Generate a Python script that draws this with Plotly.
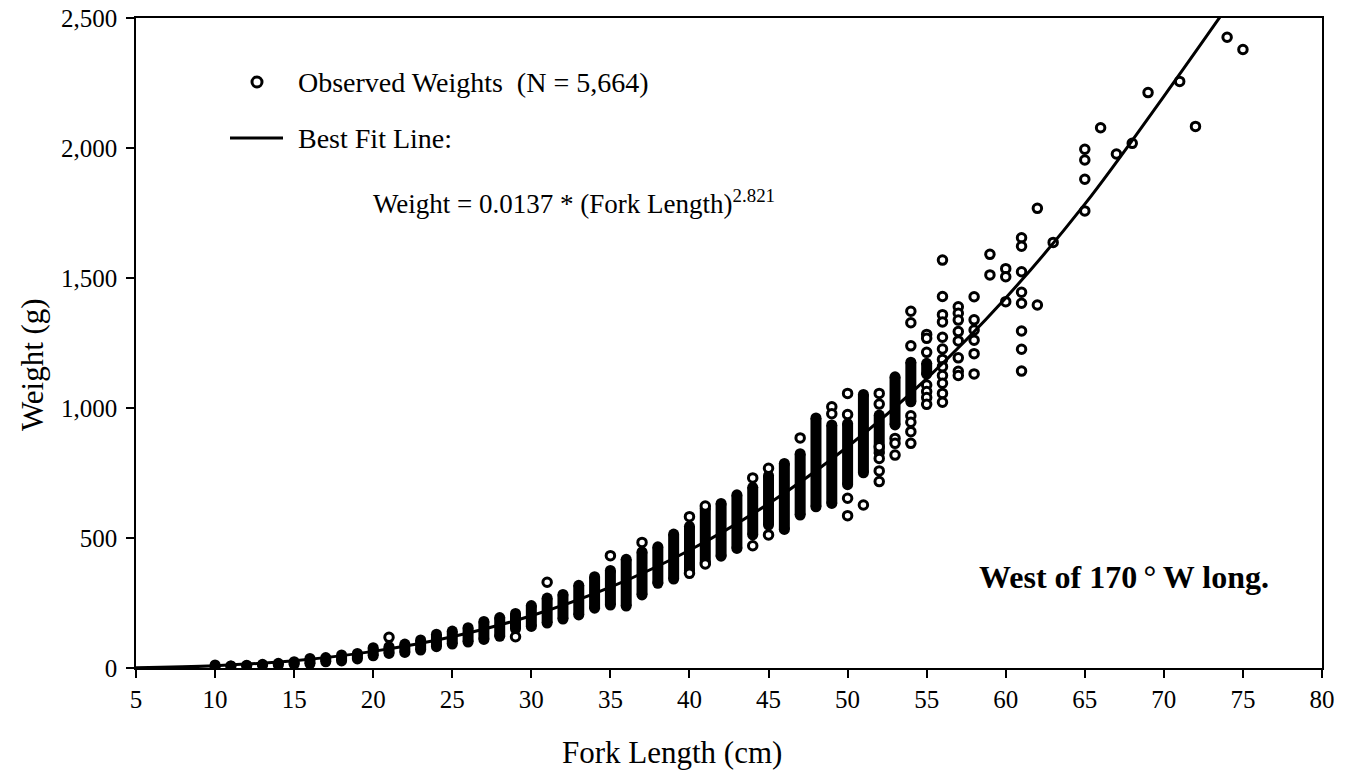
import plotly.graph_objects as go

# ---- data ----
# dense columns of overlapping observations: fork length, lowest and highest weight
col_len = list(range(10, 56))
col_min = [3, 8, 9, 11, 12, 14, 16, 24, 27, 35,
           47, 56, 60, 69, 82, 92, 100, 110, 122, 150,
           160, 173, 188, 204, 230, 242, 238, 281, 326, 342,
           375, 405, 430, 460, 512, 550, 533, 588, 620, 633,
           705, 751, 826, 935, 1024, 1130]
col_max = [12, 8, 11, 14, 18, 24, 37, 40, 50, 56,
           78, 82, 92, 108, 130, 142, 155, 179, 194, 210,
           240, 269, 283, 318, 351, 375, 418, 447, 466, 515,
           545, 614, 633, 666, 695, 740, 787, 824, 962, 935,
           940, 1052, 973, 1120, 1176, 1172]

# individually visible observations
pt_len = [21, 29, 31, 35, 37, 40, 40, 41, 41, 44, 44, 45, 45, 47, 49, 49,
          50, 50, 50, 50, 51,
          52, 52, 52, 52, 52, 52,
          53, 53, 53,
          54, 54, 54, 54, 54, 54, 54,
          55, 55, 55, 55, 55, 55, 55,
          56, 56, 56, 56, 56, 56, 56, 56, 56, 56, 56, 56,
          57, 57, 57, 57, 57, 57, 57, 57,
          58, 58, 58, 58, 58, 58,
          59, 59,
          60, 60, 60,
          61, 61, 61, 61, 61, 61, 61, 61,
          62, 62, 63,
          65, 65, 65, 65, 66, 67, 68, 69, 71, 72, 74, 75]
pt_wt = [118, 120, 330, 432, 483, 582, 364, 623, 400, 731, 470, 768, 512, 885, 1005, 978,
         1056, 975, 653, 586, 627,
         1056, 1015, 851, 806, 758, 717,
         883, 864, 819,
         1372, 1328, 1239, 970, 945, 909, 864,
         1283, 1268, 1214, 1088, 1063, 1040, 1014,
         1569, 1429, 1359, 1331, 1272, 1227, 1187, 1159, 1125, 1095, 1056, 1022,
         1389, 1364, 1338, 1294, 1258, 1193, 1141, 1125,
         1428, 1339, 1300, 1261, 1209, 1131,
         1591, 1512,
         1536, 1505, 1409,
         1655, 1622, 1524, 1445, 1403, 1296, 1226, 1142,
         1768, 1396, 1637,
         1995, 1954, 1880, 1758, 2078, 1977, 2018, 2213, 2256, 2083, 2426, 2379]

# best fit line
fit_len = [5, 10, 15, 20, 25, 30, 35, 40, 45, 50, 55, 60, 65, 70, 75]
fit_wt = [1.3, 9, 28, 64, 120, 201, 311, 453, 632, 851, 1113, 1423, 1784, 2199, 2630]

x_ticks = list(range(5, 81, 5))
y_ticks = [0, 500, 1000, 1500, 2000, 2500]

FONT = "Liberation Serif, Times New Roman, serif"

# build column segments
seg_x, seg_y = [], []
for L, lo, hi in zip(col_len, col_min, col_max):
    seg_x += [L, L, None]
    seg_y += [lo, hi, None]

fig = go.Figure()

fig.add_trace(go.Scatter(
    x=seg_x, y=seg_y, mode="lines+markers",
    line=dict(color="black", width=11),
    marker=dict(symbol="circle", size=11, color="black"),
    hoverinfo="skip", showlegend=False))

fig.add_trace(go.Scatter(
    x=pt_len, y=pt_wt, mode="markers",
    marker=dict(symbol="circle", size=8.5, color="white",
                line=dict(color="black", width=3)),
    name="Observed Weights", showlegend=False))

fig.add_trace(go.Scatter(
    x=fit_len, y=fit_wt, mode="lines",
    line=dict(color="black", width=3, shape="spline", smoothing=1),
    name="Best Fit Line", showlegend=False))

L0, W0 = 136, 1186   # plot left px, width px
T0, H0 = 18, 650     # plot top px, height px

def px(xp):
    return (xp - L0) / W0

def py(yp):
    return (T0 + H0 - yp) / H0

shapes = [
    dict(type="circle", xref="paper", yref="paper",
         xsizemode="pixel", ysizemode="pixel",
         xanchor=px(257), yanchor=py(82),
         x0=-5, x1=5, y0=-5, y1=5,
         line=dict(color="black", width=3), fillcolor="white"),
    dict(type="line", xref="paper", yref="paper",
         x0=px(230), x1=px(283), y0=py(138), y1=py(138),
         line=dict(color="black", width=3)),
]

annotations = [
    dict(x=px(296), y=py(82), xref="paper", yref="paper", xanchor="left",
         yanchor="middle", showarrow=False,
         text="Observed Weights\u00a0 (N = 5,664)",
         font=dict(family=FONT, size=28, color="black")),
    dict(x=px(296), y=py(138), xref="paper", yref="paper", xanchor="left",
         yanchor="middle", showarrow=False,
         text="Best Fit Line:",
         font=dict(family=FONT, size=28, color="black")),
    dict(x=px(371), y=py(202), xref="paper", yref="paper", xanchor="left",
         yanchor="middle", showarrow=False,
         text="Weight = 0.0137 * (Fork Length)<sup>2.821</sup>",
         font=dict(family=FONT, size=27, color="black")),
    dict(x=px(977), y=py(577), xref="paper", yref="paper", xanchor="left",
         yanchor="middle", showarrow=False,
         text="<b>West of 170\u2009\u00b0\u2009W long.</b>",
         font=dict(family=FONT, size=32, color="black")),
    # axis titles
    dict(x=px(672), y=py(752), xref="paper", yref="paper", xanchor="center",
         yanchor="middle", showarrow=False,
         text="Fork Length (cm)",
         font=dict(family=FONT, size=31, color="black")),
    dict(x=px(32), y=py(365), xref="paper", yref="paper", xanchor="center",
         yanchor="middle", showarrow=False, textangle=-90,
         text="Weight (g)",
         font=dict(family=FONT, size=31, color="black")),
]

fig.update_layout(
    template="none",
    width=1349, height=777,
    margin=dict(l=L0, r=1349 - L0 - W0, t=T0, b=777 - T0 - H0, autoexpand=False),
    paper_bgcolor="white", plot_bgcolor="white",
    font=dict(family=FONT, color="black", size=25),
    shapes=shapes, annotations=annotations,
    showlegend=False,
)
fig.update_xaxes(
    range=[5, 80], tickvals=x_ticks, ticktext=[str(v) for v in x_ticks],
    ticks="outside", ticklen=8, tickwidth=1.5, tickcolor="black",
    showline=True, linecolor="black", linewidth=1.5, mirror=True,
    showgrid=False, zeroline=False, automargin=False,
    tickfont=dict(family=FONT, size=25, color="black"),
)
fig.update_yaxes(
    range=[0, 2500], tickvals=y_ticks, tickformat=",d",
    ticks="outside", ticklen=8, tickwidth=1.5, tickcolor="black",
    ticklabelstandoff=4,
    showline=True, linecolor="black", linewidth=1.5, mirror=True,
    showgrid=False, zeroline=False, automargin=False,
    tickfont=dict(family=FONT, size=25, color="black"),
)

fig.write_html("out.html")
